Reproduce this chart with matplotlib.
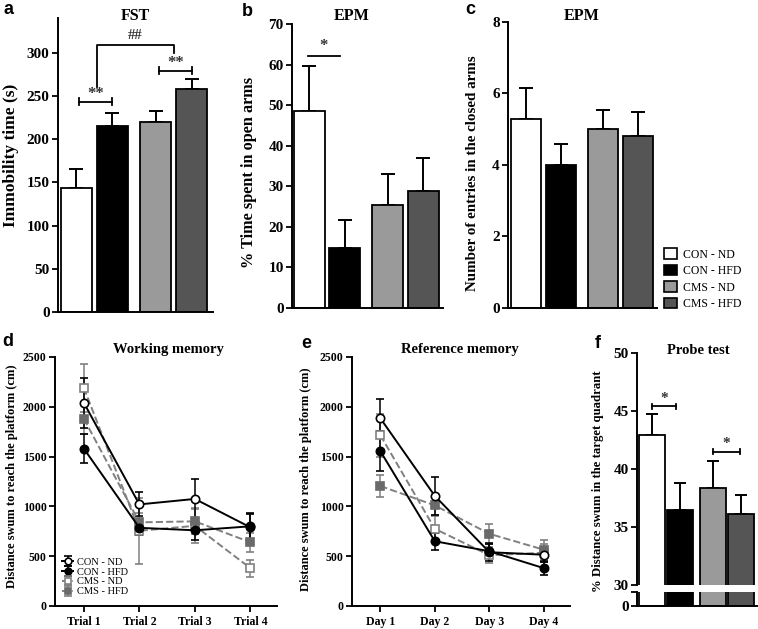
import matplotlib.pyplot as plt
from matplotlib.patches import Patch

W, H = 758, 629
SERIF = 'Liberation Serif'
SANS = 'Liberation Sans'

# ---- data ----
groups = ['CON - ND', 'CON - HFD', 'CMS - ND', 'CMS - HFD']
bar_colors = ['white', 'black', '#9a9a9a', '#555555']
bar_pos = [0, 1, 2.2, 3.2]

fst_mean = [143, 215, 220, 258]
fst_err = [22, 15, 12, 11]
open_arm_mean = [48.6, 14.9, 25.3, 28.8]
open_arm_err = [11.1, 6.9, 7.8, 8.2]
entries_mean = [5.3, 4.0, 5.0, 4.82]
entries_err = [0.85, 0.6, 0.54, 0.66]
probe_mean = [42.9, 36.5, 38.4, 36.1]
probe_err = [1.8, 2.3, 2.3, 1.7]

trials = ['Trial 1', 'Trial 2', 'Trial 3', 'Trial 4']
days = ['Day 1', 'Day 2', 'Day 3', 'Day 4']
# order: CON-ND, CON-HFD, CMS-ND, CMS-HFD
wm_mean = [[2040, 1020, 1075, 790],
           [1580, 785, 760, 800],
           [2190, 755, 805, 380],
           [1880, 840, 850, 640]]
wm_err = [[250, 120, 200, 130],
          [145, 70, 100, 135],
          [240, 330, 170, 85],
          [150, 90, 130, 95]]
ref_mean = [[1885, 1105, 540, 515],
            [1555, 650, 550, 380],
            [1715, 775, 510, 535],
            [1205, 1010, 725, 565]]
ref_err = [[195, 195, 90, 70],
           [200, 85, 70, 70],
           [215, 130, 80, 90],
           [110, 100, 100, 95]]

fig = plt.figure(figsize=(W / 100, H / 100), dpi=100)


def px_axes(l, t, r, b):
    return fig.add_axes([l / W, 1 - b / H, (r - l) / W, (b - t) / H])


def style(ax, tick_fs):
    for s in ['top', 'right']:
        ax.spines[s].set_visible(False)
    for s in ['left', 'bottom']:
        ax.spines[s].set_linewidth(1.4)
    ax.tick_params(axis='y', direction='out', length=4, width=1.3, pad=2)
    for lab in ax.get_yticklabels():
        lab.set_fontfamily(SERIF)
        lab.set_fontweight('bold')
        lab.set_fontsize(tick_fs)


def bars(ax, mean, err, width=0.87):
    ax.bar(bar_pos, mean, width=width, color=bar_colors, edgecolor='black',
           linewidth=1.3, zorder=2)
    ax.errorbar(bar_pos, mean, yerr=[[0] * 4, err], fmt='none', ecolor='black',
                elinewidth=1.4, capsize=5.2, capthick=1.4, zorder=1)


def bracket(ax, x1, x2, y, cap, txt, ty, fs=12):
    ax.plot([x1, x2], [y, y], color='black', lw=1.3, clip_on=False)
    if cap:
        for x in (x1, x2):
            ax.plot([x, x], [y - cap, y + cap], color='black', lw=1.3, clip_on=False)
    ax.text((x1 + x2) / 2, ty, txt, ha='center', va='center', fontsize=fs,
            family=SERIF, fontweight='bold', color='#333333')


def title(x, y, s, fs):
    fig.text(x / W, 1 - y / H, s, ha='center', va='center', family=SERIF,
             fontweight='bold', fontsize=fs)


def ylab(x, y, s, fs):
    fig.text(x / W, 1 - y / H, s, ha='center', va='center', rotation=90,
             family=SERIF, fontweight='bold', fontsize=fs)


def letter(x, y, s):
    fig.text(x / W, 1 - y / H, s, ha='center', va='center', family=SANS,
             fontweight='bold', fontsize=13)


# ---- a: FST ----
ax = px_axes(58, 18, 213, 312)
bars(ax, fst_mean, fst_err)
ax.set_xlim(-0.51, 3.79)
ax.set_ylim(0, 340)
ax.set_yticks(range(0, 301, 50))
ax.set_xticks([])
style(ax, 11)
bracket(ax, 0.07, 1.0, 243, 4, '**', 252)
bracket(ax, 2.29, 3.21, 279, 4, '**', 288)
ax.plot([0.57, 0.57, 2.71, 2.71], [260, 309, 309, 299], color='black', lw=1.3,
        clip_on=False)
ax.text(1.64, 320, '##', ha='center', va='center', fontsize=10.5, family=SERIF,
        fontweight='bold', color='#333333')

# ---- b: EPM open arms ----
ax = px_axes(292, 24, 443, 308)
bars(ax, open_arm_mean, open_arm_err)
ax.set_xlim(-0.49, 3.76)
ax.set_ylim(0, 70)
ax.set_yticks(range(0, 71, 10))
ax.set_xticks([])
style(ax, 11)
bracket(ax, -0.04, 0.86, 62, 0, '*', 64.5)

# ---- c: EPM entries ----
ax = px_axes(508, 22, 657, 308)
bars(ax, entries_mean, entries_err)
ax.set_xlim(-0.51, 3.74)
ax.set_ylim(0, 8)
ax.set_yticks(range(0, 9, 2))
ax.set_xticks([])
style(ax, 11)
handles = [Patch(facecolor=c, edgecolor='black', linewidth=1.2) for c in bar_colors]
fig.legend(handles, groups, loc='upper left', bbox_to_anchor=(656 / W, 1 - 240 / H),
           frameon=False, prop={'family': SERIF, 'size': 8.5}, handlelength=1.1,
           handleheight=1.0, handletextpad=0.5, labelspacing=0.35, borderpad=0.2)

# ---- d, e: line panels ----
line_styles = [
    dict(color='black', ls='-', marker='o', mfc='white', mec='black'),
    dict(color='black', ls='-', marker='o', mfc='black', mec='black'),
    dict(color='#808080', ls='--', marker='s', mfc='white', mec='#808080'),
    dict(color='#808080', ls='--', marker='s', mfc='#6a6a6a', mec='#6a6a6a'),
]
draw_order = [2, 3, 0, 1]


def line_panel(ax, labels, means, errs):
    xs = list(range(len(labels)))
    for i in draw_order:
        st = line_styles[i]
        ax.errorbar(xs, means[i], yerr=errs[i], color=st['color'], ls=st['ls'],
                    lw=1.4, marker=st['marker'], ms=6, mfc=st['mfc'], mec=st['mec'],
                    mew=1.2, ecolor=st['color'], elinewidth=1.1, capsize=3,
                    capthick=1.1, label=groups[i])
    ax.set_xlim(-0.52, 3.48)
    ax.set_ylim(0, 2500)
    ax.set_yticks(range(0, 2501, 500))
    ax.set_xticks(xs)
    ax.set_xticklabels(labels, family=SERIF, fontweight='bold', fontsize=8.5)
    ax.tick_params(axis='x', direction='out', length=4, width=1.3)
    style(ax, 8.5)


ax = px_axes(55, 357, 277, 606)
line_panel(ax, trials, wm_mean, wm_err)
h, l = ax.get_legend_handles_labels()
hmap = dict(zip(l, h))
ax.legend([hmap[g] for g in groups], groups, loc='lower left',
          bbox_to_anchor=(0.0, 0.01), frameon=False,
          prop={'family': SERIF, 'size': 7.5}, handlelength=1.0,
          handletextpad=0.4, labelspacing=0.05, borderpad=0.2, markerscale=0.8)

ax = px_axes(352, 357, 570, 606)
line_panel(ax, days, ref_mean, ref_err)

# ---- f: probe test (broken axis) ----
ax_top = px_axes(637, 353, 757, 585)
ax_bot = px_axes(637, 592, 757, 606)
for a_ in (ax_top, ax_bot):
    a_.bar(bar_pos, probe_mean, width=0.93, color=bar_colors, edgecolor='black',
           linewidth=1.3, zorder=2)
    a_.set_xlim(-0.52, 3.77)
    a_.set_xticks([])
ax_top.errorbar(bar_pos, probe_mean, yerr=[[0] * 4, probe_err], fmt='none',
                ecolor='black', elinewidth=1.4, capsize=4.5, capthick=1.4, zorder=1)
ax_top.set_ylim(30, 50)
ax_top.set_yticks(range(30, 51, 5))
style(ax_top, 11)
ax_top.spines['bottom'].set_visible(False)
ax_bot.set_ylim(0, 1.2)
ax_bot.set_yticks([0, 1.2])
ax_bot.set_yticklabels(['0', ''])
style(ax_bot, 11)
bracket(ax_top, 0.0, 0.88, 45.4, 0.22, '*', 46.1, fs=11)
bracket(ax_top, 2.2, 3.15, 41.5, 0.22, '*', 42.2, fs=11)

# ---- titles, labels, letters ----
title(135, 16, 'FST', 11.5)
title(352, 16, 'EPM', 11.5)
title(582, 16, 'EPM', 11.5)
title(168, 350, 'Working memory', 10.5)
title(460, 350, 'Reference memory', 10.5)
title(698, 351, 'Probe test', 10.5)

ylab(11, 155, 'Immobility time (s)', 12.5)
ylab(249, 172, '% Time spent in open arms', 11.7)
ylab(472, 173, 'Number of entries in the closed arms', 10.8)
ylab(12, 476, 'Distance swum to reach the platform (cm)', 9)
ylab(306, 479, 'Distance swum to reach the platform (cm)', 9)
ylab(598, 481, '% Distance swum in the target quadrant', 9.2)

letter(8, 10, 'a')
letter(247, 11, 'b')
letter(470, 10, 'c')
letter(8, 341, 'd')
letter(306, 344, 'e')
letter(598, 343, 'f')

fig.savefig('out.png', dpi=100)
